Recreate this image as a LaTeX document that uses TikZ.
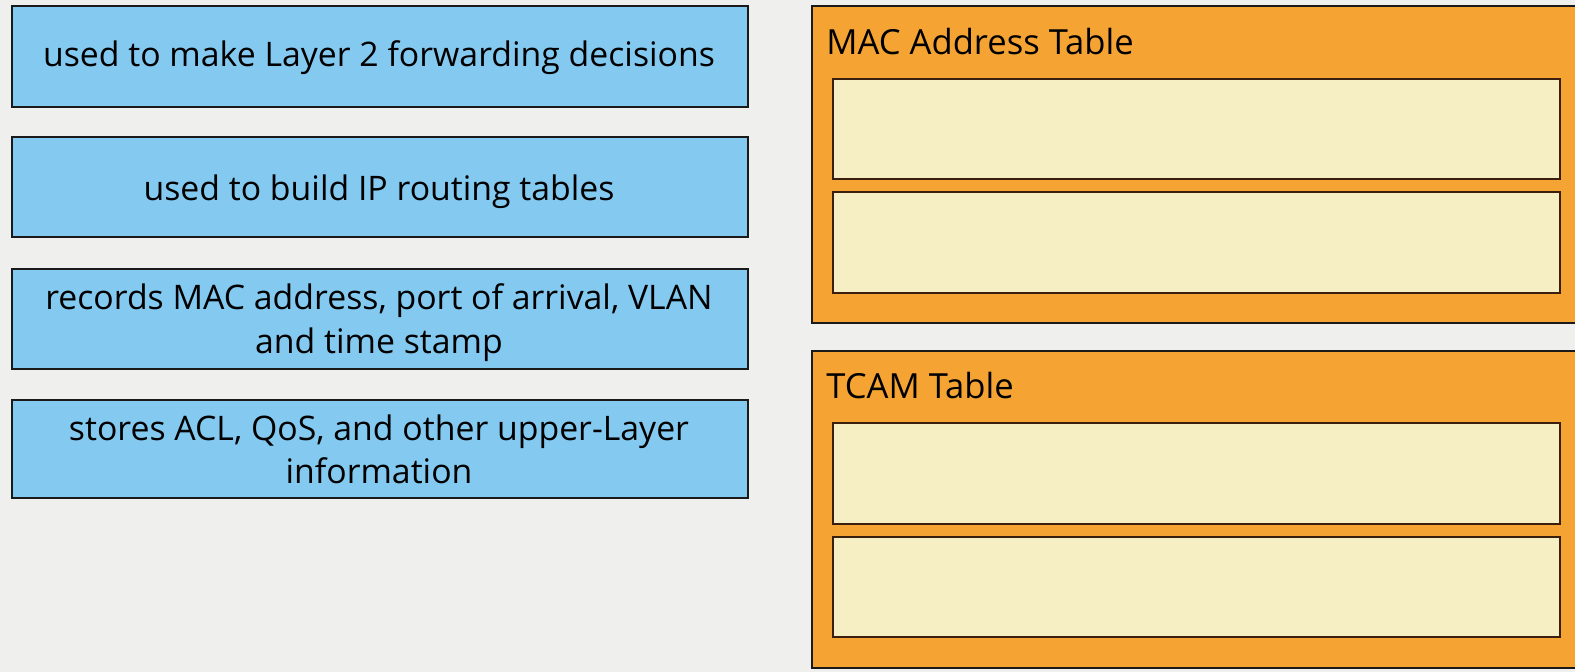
\documentclass[tikz,border=0pt]{standalone}
\usepackage{fontspec}
\setmainfont{Open Sans}
\definecolor{bg}{HTML}{EFEFEE}
\definecolor{bluefill}{HTML}{83C9F0}
\definecolor{orangefill}{HTML}{F5A433}
\definecolor{creamfill}{HTML}{F6EFC3}
\definecolor{edge}{HTML}{1A1A1A}
\definecolor{brownedge}{HTML}{3A1E0E}
\tikzset{
  bluebox/.style={draw=edge, line width=1pt, fill=bluefill},
  orangebox/.style={draw=edge, line width=1pt, fill=orangefill},
  creambox/.style={draw=brownedge, line width=1.1pt, fill=creamfill},
  boxtext/.style={align=center, font=\fontsize{16.9}{23.5}\selectfont, inner sep=0pt},
  titletext/.style={anchor=base west, font=\fontsize{17.3}{20}\selectfont, inner sep=0pt},
}
\begin{document}
\begin{tikzpicture}[x=0.5pt, y=-0.5pt]
\fill[bg] (0,0) rectangle (1575,672);
\useasboundingbox (0,0) rectangle (1575,672);
% blue boxes
\draw[bluebox] (12,6) rectangle (748,107);
\node[boxtext, anchor=base] (b1) at (379,67) {used to make Layer 2 forwarding decisions};
\draw[bluebox] (12,137) rectangle (748,237);
\node[boxtext, anchor=base] (b2) at (379,201) {used to build IP routing tables};
\draw[bluebox] (12,269) rectangle (748,369);
\node[boxtext, anchor=base] (b3) at (379,310) {records MAC address, port of arrival, VLAN};
\node[boxtext, anchor=base] (b3b) at (379,354) {and time stamp};
\draw[bluebox] (12,400) rectangle (748,498);
\node[boxtext, anchor=base] (b4) at (379,441) {stores ACL, QoS, and other upper-Layer};
\node[boxtext, anchor=base] (b4b) at (379,484) {information};
% orange MAC table
\draw[orangebox] (1576,6) -- (812,6) -- (812,323) -- (1576,323);
\fill[orangefill] (813,7) rectangle (1575,322);
\node[titletext] (t1) at (826,55) {MAC Address Table};
\draw[creambox] (833,79) rectangle (1560,179);
\draw[creambox] (833,192) rectangle (1560,293);
% orange TCAM table
\draw[orangebox] (1576,351) -- (812,351) -- (812,668) -- (1576,668);
\fill[orangefill] (813,352) rectangle (1575,667);
\node[titletext] (t2) at (826,399) {TCAM Table};
\draw[creambox] (833,423) rectangle (1560,524);
\draw[creambox] (833,537) rectangle (1560,637);
\end{tikzpicture}
\end{document}
